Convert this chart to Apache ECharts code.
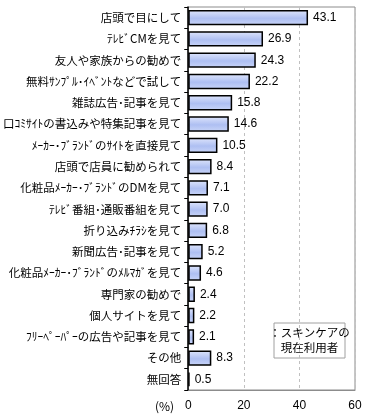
<!DOCTYPE html>
<html><head><meta charset="utf-8">
<script src="https://cdn.jsdelivr.net/npm/echarts@6/dist/echarts.min.js"></script>
<style>html,body{margin:0;padding:0;background:#fff}#c{width:365px;height:420px}</style>
</head><body><div id="c"></div>
<script>
const categories = ["店頭で目にして","ﾃﾚﾋﾞCMを見て","友人や家族からの勧めで","無料ｻﾝﾌﾟﾙ･ｲﾍﾞﾝﾄなどで試して","雑誌広告･記事を見て","口ｺﾐｻｲﾄの書込みや特集記事を見て","ﾒｰｶｰ･ﾌﾞﾗﾝﾄﾞのｻｲﾄを直接見て","店頭で店員に勧められて","化粧品ﾒｰｶｰ･ﾌﾞﾗﾝﾄﾞのDMを見て","ﾃﾚﾋﾞ番組･通販番組を見て","折り込みﾁﾗｼを見て","新聞広告･記事を見て","化粧品ﾒｰｶｰ･ﾌﾞﾗﾝﾄﾞのﾒﾙﾏｶﾞを見て","専門家の勧めで","個人サイトを見て","ﾌﾘｰﾍﾟｰﾊﾟｰの広告や記事を見て","その他","無回答"];
const values = [43.1,26.9,24.3,22.2,15.8,14.6,10.5,8.4,7.1,7.0,6.8,5.2,4.6,2.4,2.2,2.1,8.3,0.5];
const xTicks = [0,20,40,60];
const seriesName = "：スキンケアの\n現在利用者";

const chart = echarts.init(document.getElementById('c'), null, {renderer:'canvas'});
chart.setOption({
  animation:false,
  grid:{left:187, top:7, right:10, bottom:30, show:true, borderColor:'#8c8c8c', borderWidth:1},
  xAxis:{type:'value', min:xTicks[0], max:xTicks[xTicks.length-1], interval:20,
    axisLine:{show:true, lineStyle:{color:'#8c8c8c'}}, axisTick:{show:false},
    axisLabel:{color:'#000', fontSize:12, fontFamily:'Liberation Sans, Arial', margin:10},
    splitLine:{show:true, lineStyle:{color:'#c0c0c0', type:[3,3]}}},
  yAxis:{type:'category', data:categories, inverse:true,
    axisLine:{show:true, lineStyle:{color:'#000', width:1.5}},
    axisTick:{show:true, length:4, lineStyle:{color:'#000'}},
    axisLabel:{color:'#000', fontSize:11.5, fontFamily:'Noto Sans CJK JP', margin:7}},
  series:[{type:'bar', name:seriesName, data:values, barCategoryGap:'28%',
    itemStyle:{borderColor:'#000', borderWidth:1.5,
      color:new echarts.graphic.LinearGradient(0,0,0,1,[{offset:0,color:'#dfe6fc'},{offset:0.55,color:'#aebff2'},{offset:1,color:'#c9d5f8'}])},
    label:{show:true, position:'right', distance:5, color:'#000', fontSize:12, fontFamily:'Liberation Sans, Arial',
      formatter:p=>p.value.toFixed(1)}}],
  graphic:[
    {type:'text', left:155, top:400, style:{text:'(%)', fontSize:12, fontFamily:'Noto Sans CJK JP', fill:'#000'}},
    {type:'rect', shape:{x:274, y:323, width:71, height:35}, style:{fill:'#fff', stroke:'#a0a0a0', lineWidth:1}},
    {type:'text', x:309.5, y:340.5, style:{text:seriesName, fontSize:11.5, fontFamily:'Noto Sans CJK JP', fill:'#000', align:'center', verticalAlign:'middle', lineHeight:15}}
  ]
});
</script></body></html>
